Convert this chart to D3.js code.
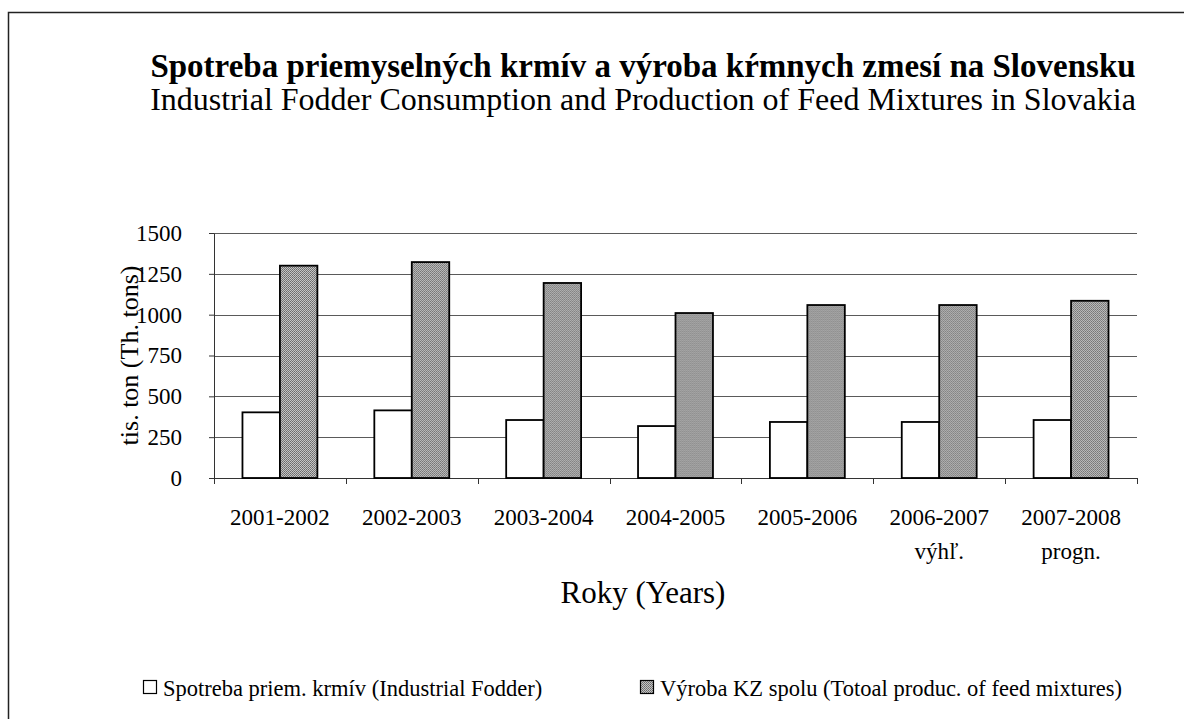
<!DOCTYPE html>
<html>
<head>
	<meta charset="utf-8">
	<title>Spotreba priemyselných krmív a výroba kŕmnych zmesí na Slovensku</title>
	<script type="text/javascript" src="https://d3js.org/d3.v7.min.js"></script>
	<style>
		body {
			margin: 0;
			background: #fff;
		}
		svg text {
			font-family: "Liberation Serif", "Times New Roman", serif;
			fill: #000;
		}
		.grid line {
			stroke: #5a5a5a;
			stroke-width: 1;
		}
	</style>
</head>
<body>

	<svg width="1184" height="719"></svg>
	<script type="text/javascript">

		// data
		var categories = ["2001-2002", "2002-2003", "2003-2004", "2004-2005", "2005-2006", "2006-2007", "2007-2008"];
		var catNotes = ["", "", "", "", "", "výhľ.", "progn."];
		var fodder = [402, 414, 355, 318, 343, 343, 355];
		var mixtures = [1300, 1322, 1194, 1010, 1059, 1059, 1085];
		var yTicks = [0, 250, 500, 750, 1000, 1250, 1500];
		var seriesNames = ["Spotreba priem. krmív (Industrial Fodder)", "Výroba KZ spolu (Totoal produc. of feed mixtures)"];

		var svg = d3.select("svg"),
			margin = {top: 233, right: 47, bottom: 241, left: 214},
			width = +svg.attr("width") - margin.left - margin.right,
			height = +svg.attr("height") - margin.top - margin.bottom;

		// dotted fill like the old excel pattern
		var defs = svg.append("defs");
		var pat = defs.append("pattern")
			.attr("id", "dots")
			.attr("width", 2)
			.attr("height", 2)
			.attr("patternUnits", "userSpaceOnUse");
		pat.append("rect").attr("width", 2).attr("height", 2).attr("fill", "#c4c4c4");
		pat.append("rect").attr("width", 1).attr("height", 1).attr("fill", "#6a6a6a");
		pat.append("rect").attr("x", 1).attr("y", 1).attr("width", 1).attr("height", 1).attr("fill", "#7a7a7a");

		// outer frame (runs off the right and bottom edge)
		svg.append("rect")
			.attr("x", 8.5)
			.attr("y", 12.5)
			.attr("width", 1400)
			.attr("height", 900)
			.attr("fill", "none")
			.attr("stroke", "#222")
			.attr("stroke-width", 1.5);

		svg.append("text")
			.attr("x", 643)
			.attr("y", 77)
			.attr("text-anchor", "middle")
			.style("font-size", "33px")
			.style("font-weight", "bold")
			.text("Spotreba priemyselných krmív a výroba kŕmnych zmesí na Slovensku");

		svg.append("text")
			.attr("x", 643)
			.attr("y", 110)
			.attr("text-anchor", "middle")
			.style("font-size", "32px")
			.text("Industrial Fodder Consumption and Production of Feed Mixtures in Slovakia");

		var x0 = d3.scaleBand().domain(categories).range([0, width]).paddingInner(0).paddingOuter(0);
		var x1 = d3.scaleBand().domain([0, 1]).range([0, x0.bandwidth()]).paddingInner(0).paddingOuter(0.76);
		var y = d3.scaleLinear().domain([0, 1500]).range([height, 0]);

		var g = svg.append("g")
			.attr("transform", "translate(" + margin.left + "," + margin.top + ")");

		// horizontal gridlines
		g.append("g")
			.attr("class", "grid")
			.selectAll("line")
			.data(yTicks)
			.enter().append("line")
			.attr("x1", 0)
			.attr("x2", width)
			.attr("y1", function(d) { return Math.round(y(d)) + 0.5; })
			.attr("y2", function(d) { return Math.round(y(d)) + 0.5; });

		// y axis
		var yAxis = g.append("g")
			.call(d3.axisLeft(y).tickValues(yTicks).tickFormat(d3.format("d")).tickSize(5).tickPadding(27).tickSizeOuter(0));
		yAxis.select(".domain").attr("stroke", "#333");
		yAxis.selectAll(".tick line").attr("stroke", "#333");
		yAxis.selectAll("text")
			.style("font-size", "23px")
			.style("font-family", "'Liberation Serif', 'Times New Roman', serif")
			.attr("fill", "#000");

		// x axis ticks at the category edges
		var edges = categories.map(function(c) { return x0(c); }).concat([width]);
		g.append("line")
			.attr("x1", 0).attr("x2", width)
			.attr("y1", height + 0.5).attr("y2", height + 0.5)
			.attr("stroke", "#333");
		g.selectAll(".xtick")
			.data(edges)
			.enter().append("line")
			.attr("class", "xtick")
			.attr("x1", function(d) { return Math.round(d) + 0.5; })
			.attr("x2", function(d) { return Math.round(d) + 0.5; })
			.attr("y1", height)
			.attr("y2", height + 6)
			.attr("stroke", "#333");

		var xl = g.selectAll(".xlabel")
			.data(categories)
			.enter().append("text")
			.attr("class", "xlabel")
			.attr("text-anchor", "middle")
			.style("font-size", "23px")
			.attr("x", function(d) { return x0(d) + x0.bandwidth() / 2; })
			.attr("y", height + 47);
		xl.append("tspan").text(function(d) { return d; });
		xl.append("tspan")
			.attr("x", function(d) { return x0(d) + x0.bandwidth() / 2; })
			.attr("dy", 34)
			.text(function(d, i) { return catNotes[i]; });

		// bars
		var groups = g.selectAll(".grp")
			.data(categories)
			.enter().append("g")
			.attr("class", "grp")
			.attr("transform", function(d) { return "translate(" + x0(d) + ",0)"; });

		groups.append("rect")
			.attr("x", x1(0))
			.attr("y", function(d, i) { return y(fodder[i]); })
			.attr("width", x1.bandwidth())
			.attr("height", function(d, i) { return height - y(fodder[i]); })
			.attr("fill", "#fff")
			.attr("stroke", "#000")
			.attr("stroke-width", 1.8);

		groups.append("rect")
			.attr("x", x1(1))
			.attr("y", function(d, i) { return y(mixtures[i]); })
			.attr("width", x1.bandwidth())
			.attr("height", function(d, i) { return height - y(mixtures[i]); })
			.attr("fill", "url(#dots)")
			.attr("stroke", "#000")
			.attr("stroke-width", 1.8);

		// axis titles
		svg.append("text")
			.attr("transform", "translate(138," + (margin.top + height / 2) + ") rotate(-90)")
			.attr("text-anchor", "middle")
			.style("font-size", "26px")
			.text("tis. ton (Th. tons)");

		svg.append("text")
			.attr("x", 643)
			.attr("y", 603)
			.attr("text-anchor", "middle")
			.style("font-size", "31px")
			.text("Roky (Years)");

		// legend
		var legX = [143, 640];
		var leg = svg.selectAll(".leg")
			.data(seriesNames)
			.enter().append("g")
			.attr("class", "leg")
			.attr("transform", function(d, i) { return "translate(" + legX[i] + ",688)"; });
		leg.append("rect")
			.attr("x", 0.5)
			.attr("y", -7.5)
			.attr("width", 13)
			.attr("height", 13)
			.attr("fill", function(d, i) { return i == 0 ? "#fff" : "url(#dots)"; })
			.attr("stroke", "#000")
			.attr("stroke-width", 1.2);
		leg.append("text")
			.attr("x", 20)
			.attr("y", 8)
			.style("font-size", "22.5px")
			.text(function(d) { return d; });

	</script>

</body>
</html>
